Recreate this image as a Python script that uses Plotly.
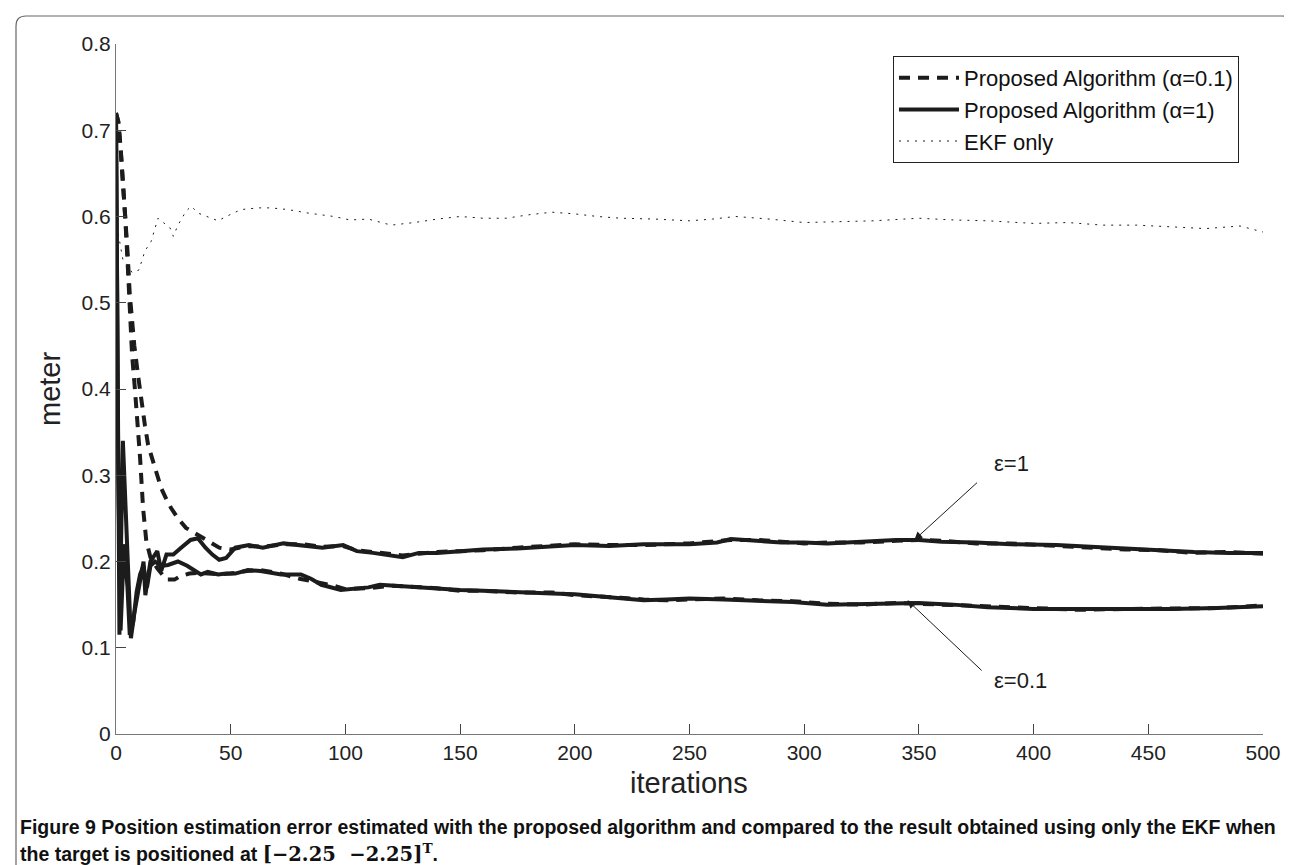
import plotly.graph_objects as go

# ---------------- data ----------------
sol_e1_x = [0, 1.5, 3, 5, 6.5, 8, 10.5, 12, 12.8, 15, 18, 19.7, 22, 25, 28, 32.5, 35.7, 39, 42, 45, 48, 52,
            58, 64, 73, 81.5, 90, 99, 105, 112, 118, 125, 132, 140, 150, 160, 175, 190, 200, 215, 230, 250,
            262, 268, 280, 290, 300, 310, 325, 340, 350, 360, 375, 390, 410, 425, 440, 455, 470, 485, 500]
sol_e1_y = [0.72, 0.115, 0.34, 0.2, 0.111, 0.14, 0.177, 0.2, 0.161, 0.2, 0.212, 0.189, 0.208, 0.208, 0.215,
            0.225, 0.227, 0.216, 0.208, 0.202, 0.204, 0.216, 0.219, 0.216, 0.221, 0.219, 0.216, 0.219, 0.212,
            0.21, 0.208, 0.205, 0.21, 0.21, 0.212, 0.214, 0.215, 0.218, 0.219, 0.218, 0.22, 0.22, 0.222, 0.226,
            0.224, 0.222, 0.222, 0.221, 0.223, 0.225, 0.225, 0.223, 0.222, 0.22, 0.219, 0.217, 0.215, 0.212,
            0.211, 0.21, 0.21]

sol_e01_x = [0, 1, 2, 3.5, 5, 6, 7.5, 9, 10.5, 12, 13.5, 15, 17, 19.7, 22.7, 27, 31, 35, 37, 40, 44.5, 48, 52,
             57.5, 63, 72, 80.6, 85, 89.5, 98, 104, 110, 115, 120, 130, 140, 150, 160, 175, 190, 200, 210, 220,
             230, 240, 250, 265, 280, 295, 310, 325, 340, 350, 365, 380, 400, 420, 440, 460, 480, 500]
sol_e01_y = [0.72, 0.3, 0.12, 0.22, 0.17, 0.115, 0.13, 0.165, 0.185, 0.195, 0.17, 0.195, 0.2, 0.195, 0.196,
             0.2, 0.195, 0.189, 0.185, 0.188, 0.185, 0.186, 0.186, 0.19, 0.189, 0.185, 0.185, 0.18, 0.173,
             0.167, 0.168, 0.17, 0.173, 0.172, 0.17, 0.168, 0.167, 0.166, 0.165, 0.163, 0.162, 0.16, 0.157,
             0.155, 0.156, 0.157, 0.156, 0.155, 0.153, 0.15, 0.151, 0.152, 0.152, 0.15, 0.147, 0.145, 0.145,
             0.144, 0.145, 0.146, 0.148]

das_e1_x = [0, 1, 2, 3, 4, 5, 6, 7, 8, 9.6, 11, 12.6, 14, 16, 18, 19.7, 22, 24, 27, 30.5, 35, 40, 45, 50, 58,
            64, 73, 81.5, 90, 99, 105, 112, 118, 125, 132, 140, 150, 160, 175, 190, 200, 215, 230, 250, 262,
            268, 280, 290, 300, 310, 325, 340, 350, 360, 375, 390, 410, 425, 440, 455, 470, 485, 500]
das_e1_y = [0.72, 0.71, 0.68, 0.645, 0.605, 0.56, 0.51, 0.48, 0.45, 0.416, 0.385, 0.358, 0.335, 0.316, 0.298,
            0.285, 0.272, 0.262, 0.25, 0.239, 0.232, 0.224, 0.216, 0.214, 0.218, 0.217, 0.22, 0.22, 0.217,
            0.218, 0.213, 0.211, 0.209, 0.207, 0.209, 0.211, 0.212, 0.213, 0.216, 0.218, 0.22, 0.219, 0.219,
            0.221, 0.223, 0.225, 0.225, 0.223, 0.221, 0.222, 0.222, 0.224, 0.225, 0.224, 0.221, 0.221, 0.218,
            0.216, 0.214, 0.213, 0.21, 0.211, 0.209]

das_e01_x = [0, 1, 2, 3, 4, 5, 6, 7, 8.3, 9.5, 10.5, 11.8, 13.2, 15, 18, 22, 25.5, 28, 32, 36, 40, 45, 50, 57,
             63, 72, 80, 88, 95, 100, 110, 120, 130, 140, 150, 160, 175, 190, 200, 210, 220, 230, 240, 250,
             265, 280, 295, 310, 325, 340, 350, 365, 380, 400, 420, 440, 460, 480, 500]
das_e01_y = [0.72, 0.71, 0.68, 0.645, 0.6, 0.55, 0.49, 0.44, 0.398, 0.36, 0.32, 0.262, 0.224, 0.205, 0.192,
             0.179, 0.179, 0.183, 0.186, 0.187, 0.186, 0.185, 0.186, 0.189, 0.19, 0.186, 0.18, 0.176, 0.172,
             0.168, 0.169, 0.172, 0.171, 0.169, 0.166, 0.166, 0.164, 0.164, 0.161, 0.16, 0.158, 0.156, 0.155,
             0.156, 0.157, 0.155, 0.154, 0.151, 0.15, 0.152, 0.151, 0.149, 0.148, 0.146, 0.144, 0.145, 0.145,
             0.146, 0.149]

ekf_x = [1, 2, 3, 5, 7, 10, 12.6, 15.3, 18.3, 19.7, 23.5, 25, 27, 30.5, 32.8, 35.7, 40, 44.5, 48, 54.5, 62,
         67.6, 75, 83.7, 95, 102, 110, 120, 130, 140, 150, 160, 170, 180, 190, 200, 210, 220, 235, 250, 260,
         270, 285, 300, 315, 330, 350, 365, 380, 400, 415, 430, 445, 460, 475, 490, 500]
ekf_y = [0.58, 0.565, 0.55, 0.544, 0.535, 0.538, 0.56, 0.571, 0.598, 0.595, 0.587, 0.577, 0.59, 0.606, 0.612,
         0.604, 0.6, 0.595, 0.6, 0.608, 0.61, 0.61, 0.608, 0.604, 0.6, 0.596, 0.597, 0.59, 0.593, 0.597, 0.6,
         0.598, 0.598, 0.602, 0.605, 0.603, 0.6, 0.598, 0.597, 0.595, 0.597, 0.6, 0.597, 0.593, 0.594, 0.595,
         0.598, 0.596, 0.595, 0.592, 0.593, 0.59, 0.59, 0.588, 0.586, 0.589, 0.582]

legend_names = ["Proposed Algorithm (\u03b1=0.1)", "Proposed Algorithm (\u03b1=1)", "EKF only"]
x_ticks = [0, 50, 100, 150, 200, 250, 300, 350, 400, 450, 500]
y_ticks = [0, 0.1, 0.2, 0.3, 0.4, 0.5, 0.6, 0.7, 0.8]
x_label = "iterations"
y_label = "meter"
eps_labels = ["\u03b5=1", "\u03b5=0.1"]
caption_1 = ("<b>Figure 9 Position estimation error estimated with the proposed algorithm and compared to "
             "the result obtained using only the EKF when</b>")
caption_2 = ("<b>the target is positioned at </b><span style='font-family:DejaVu Serif'><b>[\u22122.25 "
             "\u00a0\u22122.25]<sup>T</sup></b></span><b>.</b>")

# ---------------- layout geometry (pixels) ----------------
W, H = 1292, 865
L, R, T, B = 108, 1255, 36, 726
PW, PH = R - L, B - T


def px(xp):
    return (xp - L) / PW


def py(yp):
    return (B - yp) / PH


INK = "#1c1c1c"
FONT = "Liberation Sans, Arial, Helvetica, sans-serif"

fig = go.Figure()
dash_style = "11px,8px"
fig.add_trace(go.Scatter(x=das_e1_x, y=das_e1_y, mode="lines", name=legend_names[0], legendgroup="a",
                         line=dict(color=INK, width=4, dash=dash_style)))
fig.add_trace(go.Scatter(x=das_e01_x, y=das_e01_y, mode="lines", name=legend_names[0], legendgroup="a",
                         showlegend=False, line=dict(color=INK, width=4, dash=dash_style)))
fig.add_trace(go.Scatter(x=sol_e1_x, y=sol_e1_y, mode="lines", name=legend_names[1], legendgroup="b",
                         line=dict(color=INK, width=4)))
fig.add_trace(go.Scatter(x=sol_e01_x, y=sol_e01_y, mode="lines", name=legend_names[1], legendgroup="b",
                         showlegend=False, line=dict(color=INK, width=4)))
fig.add_trace(go.Scatter(x=ekf_x, y=ekf_y, mode="lines", name=legend_names[2], legendgroup="c",
                         line=dict(color=INK, width=1, dash="2px,6px")))

annotations = [
    # epsilon labels and arrows
    dict(x=348, y=0.225, ax=376, ay=0.293, xref="x", yref="y", axref="x", ayref="y", text="",
         showarrow=True, arrowhead=2, arrowsize=1.6, arrowwidth=1, arrowcolor=INK),
    dict(x=(1003 - L) / PW * 500, y=(B - 455) / PH * 0.8, xref="x", yref="y", text=eps_labels[0],
         showarrow=False, xanchor="center", yanchor="middle", font=dict(family=FONT, size=22, color=INK)),
    dict(x=345, y=0.155, ax=378, ay=0.072, xref="x", yref="y", axref="x", ayref="y", text="",
         showarrow=True, arrowhead=2, arrowsize=1.6, arrowwidth=1, arrowcolor=INK),
    dict(x=(1012 - L) / PW * 500, y=(B - 672) / PH * 0.8, xref="x", yref="y", text=eps_labels[1],
         showarrow=False, xanchor="center", yanchor="middle", font=dict(family=FONT, size=22, color=INK)),
    # axis titles
    dict(x=px(681), y=py(775), xref="paper", yref="paper", text=x_label, showarrow=False,
         xanchor="center", yanchor="middle", font=dict(family=FONT, size=29, color="#222")),
    dict(x=px(42), y=py(381), xref="paper", yref="paper", text=y_label, showarrow=False, textangle=-90,
         xanchor="center", yanchor="middle", font=dict(family=FONT, size=29, color="#222")),
    # caption
    dict(x=px(10), y=py(819), xref="paper", yref="paper", text=caption_1, showarrow=False,
         xanchor="left", yanchor="middle",
         font=dict(family="Liberation Sans Narrow, Arial Narrow, sans-serif", size=19.5, color="#111")),
    dict(x=px(10), y=py(845), xref="paper", yref="paper", text=caption_2, showarrow=False,
         xanchor="left", yanchor="middle",
         font=dict(family="Liberation Sans Narrow, Arial Narrow, sans-serif", size=19.5, color="#111")),
]

# rounded frame around the figure
fx0, fx1, fy0, fy1 = px(8), px(1284), py(8), py(875)
rx, ry = 10 / PW, 10 / PH
frame_path = (f"M {fx0},{fy1} L {fx0},{fy0 - ry} Q {fx0},{fy0} {fx0 + rx},{fy0} "
              f"L {fx1 - rx},{fy0} Q {fx1},{fy0} {fx1},{fy0 - ry} L {fx1},{fy1}")

fig.update_layout(
    width=W, height=H,
    margin=dict(l=L, r=W - R, t=T, b=H - B, pad=0),
    paper_bgcolor="white", plot_bgcolor="white",
    font=dict(family=FONT, color="#222"),
    showlegend=True,
    legend=dict(x=px(885), y=py(48), xanchor="left", yanchor="top",
                bgcolor="white", bordercolor="#222", borderwidth=1,
                font=dict(family=FONT, size=22, color="#111"),
                itemwidth=60, tracegroupgap=0),
    annotations=annotations,
    shapes=[dict(type="path", path=frame_path, xref="paper", yref="paper",
                 line=dict(color="#666", width=1.2), layer="below")],
    xaxis=dict(range=[0, 500], tickvals=x_ticks, ticks="inside", ticklen=10, tickcolor="#444",
               showline=True, linecolor="#777", linewidth=1, showgrid=False, zeroline=False,
               tickfont=dict(family=FONT, size=21, color="#222"), mirror=False),
    yaxis=dict(range=[0, 0.8], tickvals=y_ticks, ticks="inside", ticklen=10, tickcolor="#444",
               showline=True, linecolor="#777", linewidth=1, showgrid=False, zeroline=False,
               tickfont=dict(family=FONT, size=21, color="#222"), mirror=False),
)

fig.write_html("out.html")
